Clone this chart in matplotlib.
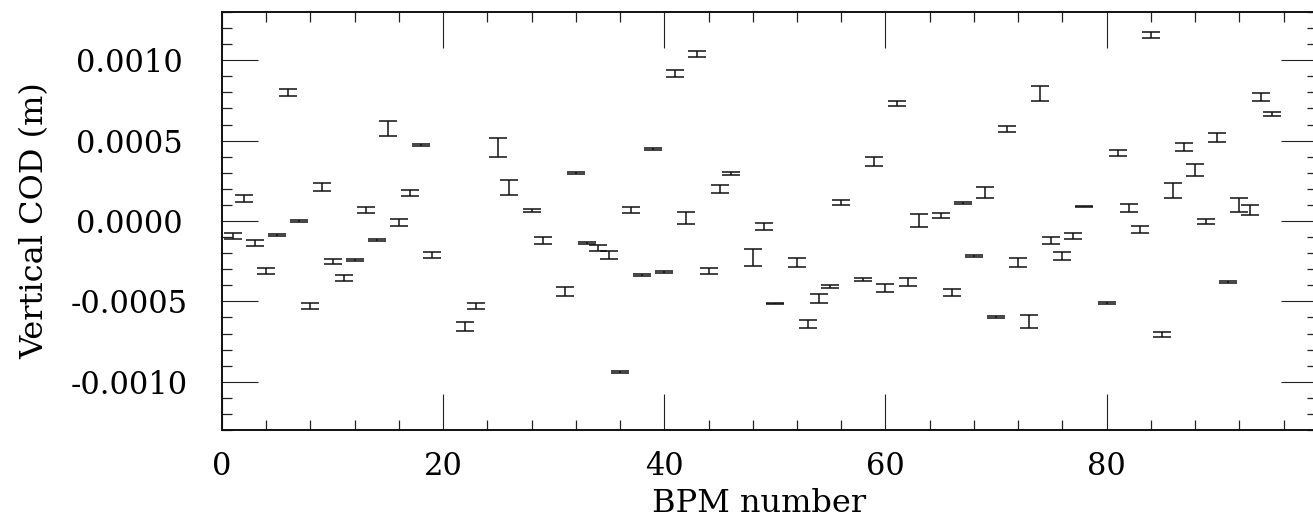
import matplotlib
matplotlib.use("Agg")
import matplotlib.pyplot as plt
from matplotlib.ticker import MultipleLocator, FormatStrFormatter

# BPM index
bpm = [1, 2, 3, 4, 5, 6, 7, 8, 9, 10, 11, 12, 13, 14, 15, 16, 17, 18, 19,
       22, 23, 25, 26, 28, 29, 31, 32, 33, 34, 35, 36, 37, 38, 39, 40,
       41, 42, 43, 44, 45, 46, 48, 49, 50, 52, 53, 54, 55, 56, 58, 59, 60,
       61, 62, 63, 65, 66, 67, 68, 69, 70, 71, 72, 73, 74, 75, 76, 77, 78,
       80, 81, 82, 83, 84, 85, 86, 87, 88, 89, 90, 91, 92, 93, 94, 95]

# vertical COD in units of 1e-4 m
cod_e4 = [-0.94, 1.42, -1.36, -3.10, -0.86, 8.00, 0.00, -5.30, 2.12, -2.52,
          -3.54, -2.44, 0.71, -1.21, 5.75, -0.07, 1.73, 4.71, -2.11,
          -6.56, -5.30, 4.57, 2.08, 0.63, -1.21, -4.38, 2.97, -1.38, -1.69,
          -2.13, -9.38, 0.71, -3.35, 4.50, -3.16,
          9.17, 0.19, 10.41, -3.10, 1.98, 2.97, -2.27, -0.34, -5.13, -2.58,
          -6.42, -4.80, -4.07, 1.15, -3.62, 3.70, -4.18,
          7.30, -3.78, 0.05, 0.36, -4.45, 1.11, -2.17, 1.77, -6.00, 5.71,
          -2.58, -6.27, 7.95, -1.21, -2.17, -0.93, 0.90,
          -5.11, 4.22, 0.80, -0.51, 11.57, -7.08, 1.91, 4.61, 3.16, -0.03,
          5.19, -3.82, 1.00, 0.69, 7.72, 6.66]

# error (half-height) in units of 1e-4 m
err_e4 = [0.19, 0.21, 0.17, 0.17, 0.06, 0.23, 0.06, 0.18, 0.23, 0.18,
          0.18, 0.07, 0.19, 0.06, 0.46, 0.21, 0.20, 0.07, 0.20,
          0.26, 0.18, 0.60, 0.45, 0.10, 0.19, 0.26, 0.07, 0.06, 0.18,
          0.26, 0.06, 0.19, 0.07, 0.06, 0.06,
          0.24, 0.40, 0.18, 0.19, 0.26, 0.08, 0.54, 0.21, 0.06, 0.26,
          0.26, 0.27, 0.10, 0.17, 0.10, 0.27, 0.24,
          0.15, 0.25, 0.40, 0.16, 0.19, 0.06, 0.07, 0.33, 0.06, 0.18,
          0.27, 0.41, 0.47, 0.19, 0.26, 0.19, 0.06,
          0.06, 0.17, 0.26, 0.23, 0.16, 0.16, 0.47, 0.24, 0.38, 0.18,
          0.26, 0.06, 0.42, 0.31, 0.24, 0.10]

cod = [v * 1e-4 for v in cod_e4]
err = [v * 1e-4 for v in err_e4]

FONT = "DejaVu Serif"

fig = plt.figure(figsize=(13.13, 5.21), dpi=100)
ax = fig.add_axes([0.16908, 0.17466, 0.83374, 0.80230])

ax.errorbar(bpm, cod, yerr=err, fmt="none", ecolor="#111111",
            elinewidth=1.1, capsize=6.5, capthick=1.1)

ax.set_xlim(0, 99)
ax.set_ylim(-0.0013, 0.0013)

ax.xaxis.set_major_locator(MultipleLocator(20))
ax.xaxis.set_minor_locator(MultipleLocator(4))
ax.yaxis.set_major_locator(MultipleLocator(0.0005))
ax.yaxis.set_minor_locator(MultipleLocator(0.0001))
ax.yaxis.set_major_formatter(FormatStrFormatter("%.4f"))

ax.tick_params(which="both", direction="in", top=True, right=True,
               color="#222222")
ax.tick_params(which="major", length=26, width=0.8)
ax.tick_params(which="minor", length=7.2, width=0.9)
ax.tick_params(axis="x", which="major", pad=15, labelsize=22)
ax.tick_params(axis="y", which="major", pad=67, labelsize=22)

for lab in ax.get_xticklabels():
    lab.set_fontfamily(FONT)
for lab in ax.get_yticklabels():
    lab.set_fontfamily(FONT)
    lab.set_horizontalalignment("center")

for sp in ax.spines.values():
    sp.set_linewidth(1.4)
    sp.set_color("#111111")

ax.set_xlabel("BPM number", fontsize=23, family=FONT)
ax.set_ylabel("Vertical COD (m)", fontsize=23, family=FONT)
ax.xaxis.set_label_coords(0.4905, -0.138)
ax.yaxis.set_label_coords(-0.157, 0.5)

fig.savefig("out.png", dpi=100)
